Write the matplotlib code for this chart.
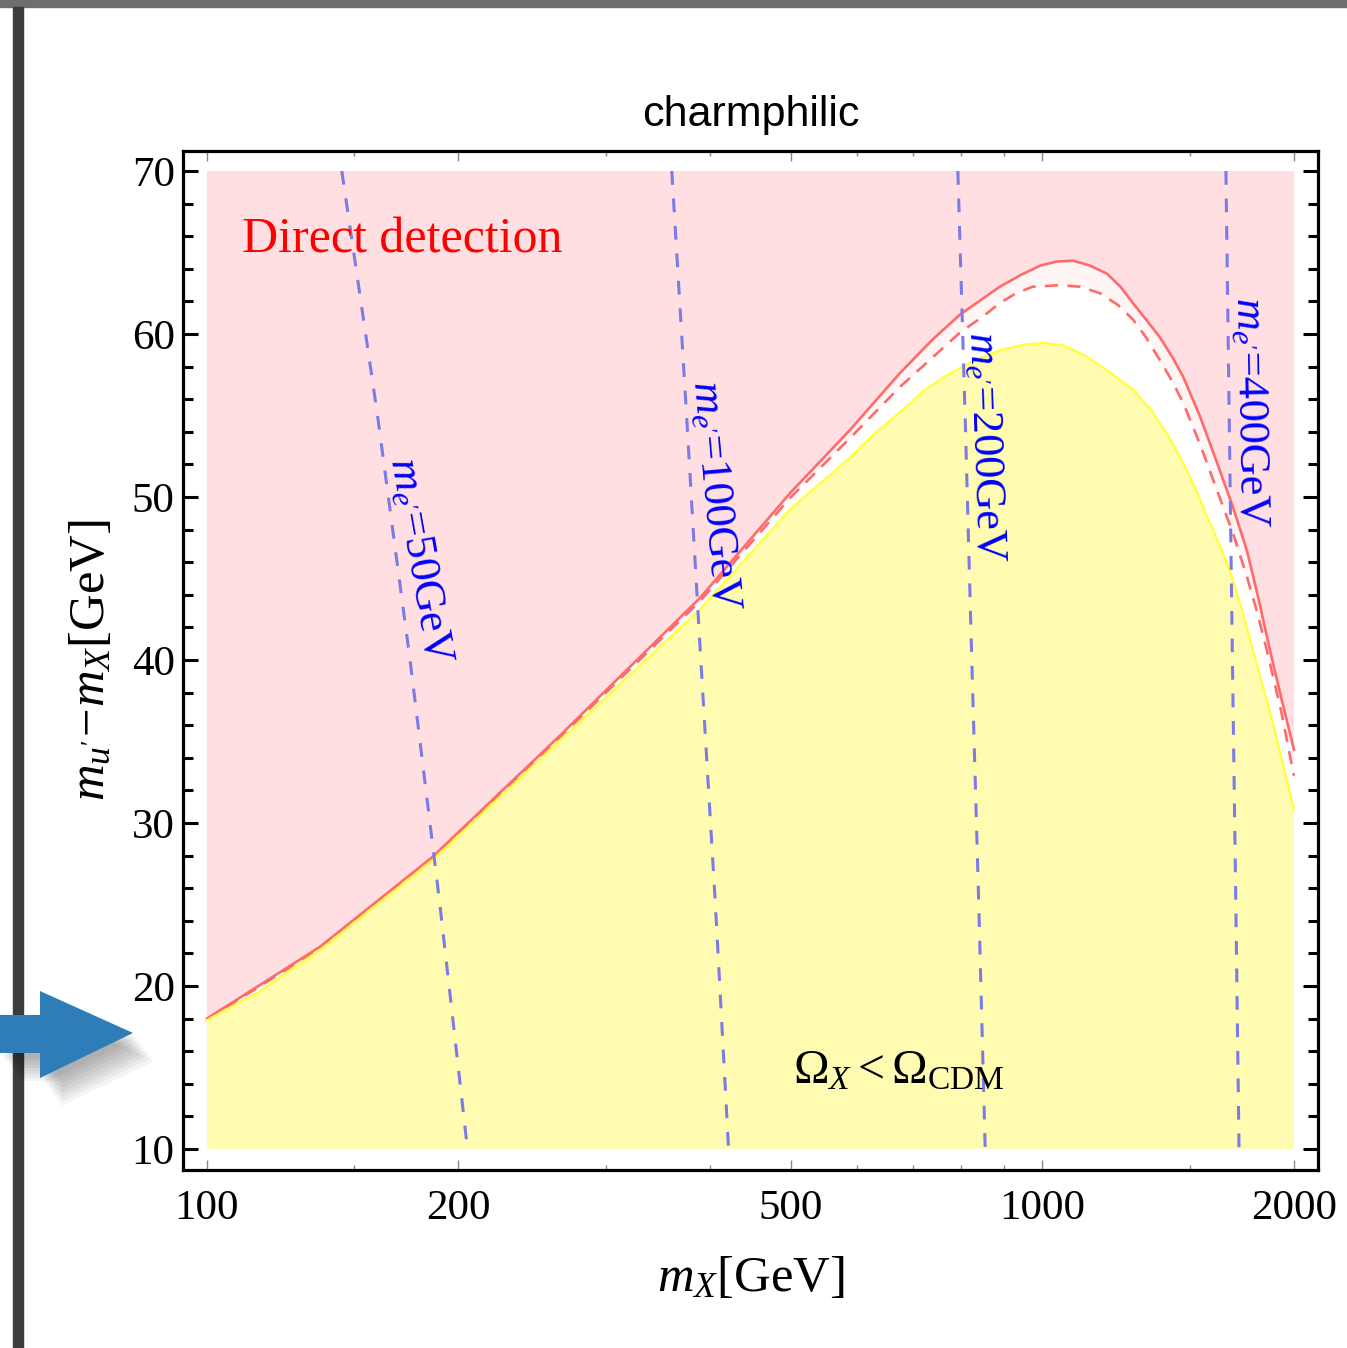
import numpy as np
import matplotlib
matplotlib.use("Agg")
import matplotlib.pyplot as plt
from matplotlib.patches import Rectangle, Polygon
from matplotlib.ticker import FixedLocator, FixedFormatter, NullFormatter

plt.rcParams["font.family"] = ["Liberation Serif", "DejaVu Serif"]
plt.rcParams["mathtext.fontset"] = "custom"
plt.rcParams["mathtext.rm"] = "Liberation Serif"
plt.rcParams["mathtext.it"] = "Liberation Serif:italic"

# yellow boundary: Omega_X < Omega_CDM below it
mx_relic = [100, 116, 126, 136.5, 186, 265, 389, 500, 588, 630, 675, 720, 770, 830, 889,
            950, 1001, 1060, 1131, 1200, 1283, 1350, 1409, 1473, 1525, 1574, 1625,
            1676, 1730, 1786, 1890, 2000]
dm_relic = [17.9, 19.7, 21.0, 22.2, 27.7, 35.1, 43.1, 49.3, 52.4, 53.9, 55.2, 56.5, 57.5, 58.4, 59.0,
            59.35, 59.45, 59.3, 58.6, 57.7, 56.6, 55.3, 53.9, 52.1, 50.5, 48.8, 47.2,
            45.5, 43.2, 40.6, 36.0, 30.8]

# direct detection bound (solid red)
mx_dd = [100, 136.5, 186, 265, 389, 500, 588, 675, 740, 797, 850, 889, 940, 994, 1040,
         1088, 1140, 1195, 1240, 1283, 1330, 1382, 1430, 1473, 1545, 1618, 1690,
         1757, 1815, 1872, 1935, 2000]
dm_dd = [18.0, 22.4, 27.9, 35.4, 43.8, 50.3, 54.1, 57.6, 59.7, 61.2, 62.2, 62.9, 63.6, 64.2, 64.45,
         64.5, 64.2, 63.7, 62.9, 61.9, 60.9, 59.8, 58.6, 57.4, 54.9, 52.1, 49.4,
         46.7, 43.7, 40.6, 37.5, 34.5]

# direct detection bound (dashed red)
mx_dd2 = [100, 136.5, 186, 265, 389, 500, 588, 675, 740, 797, 850, 889, 930, 973, 1050,
          1110, 1172, 1230, 1283, 1330, 1382, 1430, 1473, 1545, 1618, 1690, 1757,
          1810, 1856, 1930, 2000]
dm_dd2 = [17.95, 22.3, 27.8, 35.3, 43.6, 50.0, 53.6, 56.75, 58.6, 60.1, 61.1, 61.9, 62.5, 62.9, 63.0,
          62.9, 62.5, 61.8, 60.9, 59.8, 58.4, 57.1, 55.8, 53.2, 50.4, 47.8, 45.1,
          42.8, 40.6, 36.9, 32.9]

# m_e' contours
dm_grid = [70, 55, 40, 25, 10]
me_contours = {
    "50": [145, 160, 175, 190, 205],
    "100": [360, 375, 390, 406, 421],
    "200": [792, 808, 823, 839, 854],
    "400": [1658, 1673, 1688, 1704, 1719],
}
me_label_pos = {"50": (180, 46.1, -80), "100": (405, 50.1, -85),
                "200": (853, 53.1, -88), "400": (1772, 55.2, -89)}

x_major = [100, 200, 500, 1000, 2000]
x_minor = [150, 300, 400, 600, 700, 800, 900, 1500]
y_major = [10, 20, 30, 40, 50, 60, 70]
y_minor = [v for v in range(10, 71, 2) if v % 10 != 0]

W, H = 1347, 1348
fig = plt.figure(figsize=(W / 100, H / 100), dpi=100)
ax = fig.add_axes([183 / W, 1 - 1170 / H, 1135 / W, 1019 / H])

pink = "#ffdfe1"
ax.fill_between([100, 2000], 10, 70, color=pink, lw=0, zorder=0)
ax.fill(mx_dd + [2000, 100], dm_dd + [10, 10], color="#fff5f5", lw=0, zorder=1)
ax.fill(mx_dd2 + [2000, 100], dm_dd2 + [10, 10], color="white", lw=0, zorder=2)
ax.fill(mx_relic + [2000, 100], dm_relic + [10, 10], color="#fffcb2", lw=0, zorder=3)

ax.plot(mx_dd2, dm_dd2, color="#ff6b6b", lw=1.9, ls=(0, (5, 3.5)), zorder=4)
ax.plot(mx_dd, dm_dd, color="#ff6b6b", lw=1.9, zorder=4)
ax.plot(mx_relic, dm_relic, color="#ffff40", lw=1.7, zorder=5)

for k, xs in me_contours.items():
    ax.plot(xs, dm_grid, color="#7b7be8", lw=2.2, ls=(0, (4.5, 4.5)), zorder=6)
    lx, ly, rot = me_label_pos[k]
    ax.text(lx, ly, r"$m_{e'}$=" + k + "GeV", color="blue", fontsize=32,
            rotation=rot, ha="center", va="center", zorder=7)

ax.text(110, 65.0, "Direct detection", color="red", fontsize=36, va="baseline", zorder=7)
ax.text(503, 14.05, r"$\Omega_X<\Omega_{\mathrm{CDM}}$", color="black", fontsize=34.5,
        va="baseline", zorder=7)

ax.set_xscale("log")
ax.set_xlim(93.6, 2137)
ax.set_ylim(8.71, 71.23)

ax.xaxis.set_major_locator(FixedLocator(x_major))
ax.xaxis.set_major_formatter(FixedFormatter([str(v) for v in x_major]))
ax.xaxis.set_minor_locator(FixedLocator(x_minor))
ax.xaxis.set_minor_formatter(NullFormatter())
ax.yaxis.set_major_locator(FixedLocator(y_major))
ax.yaxis.set_minor_locator(FixedLocator(y_minor))

ax.tick_params(axis="both", which="both", direction="in", top=True, right=True, labelsize=31)
ax.tick_params(axis="x", which="major", length=7, width=1, color="#888888", pad=14)
ax.tick_params(axis="x", which="minor", length=3.5, width=1, color="#888888")
ax.tick_params(axis="y", which="major", length=10.5, width=2.2, color="black", pad=6)
ax.tick_params(axis="y", which="minor", length=7, width=2.2, color="black")
for sp in ax.spines.values():
    sp.set_linewidth(2.3)

ax.set_xlabel(r"$m_X$[GeV]", fontsize=36.5, labelpad=20)
ax.set_ylabel(r"$m_{u'}\!-\!m_X$[GeV]", fontsize=36.5, labelpad=12)
ax.set_title("charmphilic", fontsize=31, family="Liberation Sans", pad=18)

# screenshot frame and arrow
def fpt(x, y):
    return (x / W, 1 - y / H)

fig.patches.append(Rectangle(fpt(0, 7), 1, 7 / H, transform=fig.transFigure,
                             color="#6e6e6e", zorder=0))
fig.patches.append(Rectangle(fpt(13, H), 10 / W, (H - 7) / H, transform=fig.transFigure,
                             color="#3c3c3c", zorder=0))
arrow = [(0, 1015), (40, 1015), (40, 991), (133, 1033), (40, 1078), (40, 1053), (0, 1053)]
for i in range(8):
    off = 4 + 2.5 * i
    fig.patches.append(Polygon([fpt(x + off, y + off * 1.3) for x, y in arrow],
                               closed=True, transform=fig.transFigure,
                               color="black", alpha=0.045, lw=0, zorder=1))
fig.patches.append(Polygon([fpt(x, y) for x, y in arrow], closed=True,
                           transform=fig.transFigure, color="#2e7db8", lw=0, zorder=2))

fig.savefig("out.png", dpi=100)
